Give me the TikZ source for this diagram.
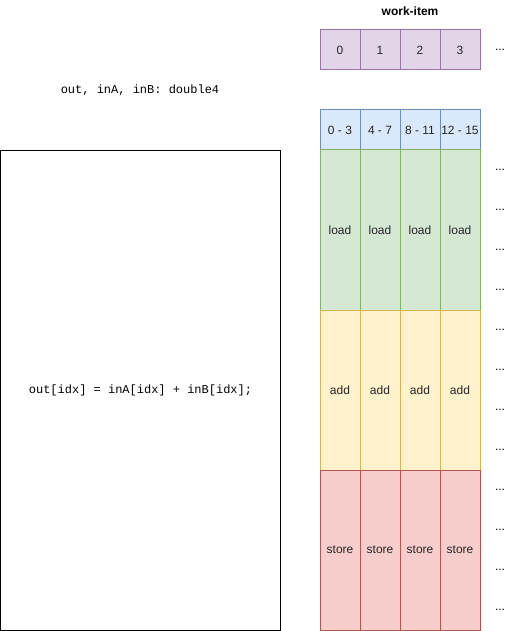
\documentclass[tikz,border=0pt]{standalone}
\usepackage{fontspec}
\setmainfont{Liberation Sans}
\newfontfamily\codefont{Liberation Mono}
\definecolor{pfill}{HTML}{E1D5E7}\definecolor{pdraw}{HTML}{9673A6}
\definecolor{bfill}{HTML}{DAE8FC}\definecolor{bdraw}{HTML}{6C8EBF}
\definecolor{gfill}{HTML}{D5E8D4}\definecolor{gdraw}{HTML}{82B366}
\definecolor{yfill}{HTML}{FFF2CC}\definecolor{ydraw}{HTML}{D6B656}
\definecolor{rfill}{HTML}{F8CECC}\definecolor{rdraw}{HTML}{B85450}
\begin{document}
\begin{tikzpicture}[x=1pt,y=-1pt,
  cell/.style={draw, line width=1pt, minimum width=40pt, inner sep=0pt, font=\fontsize{12}{14}\selectfont, text=black!85},
  wi/.style={cell, fill=pfill, draw=pdraw, minimum height=40pt},
  rng/.style={cell, fill=bfill, draw=bdraw, minimum height=40pt},
  ld/.style={cell, fill=gfill, draw=gdraw, minimum height=160pt},
  ad/.style={cell, fill=yfill, draw=ydraw, minimum height=160pt},
  st/.style={cell, fill=rfill, draw=rdraw, minimum height=160pt},
  dots/.style={font=\fontsize{12}{14}\selectfont, inner sep=0pt},
  code/.style={font=\codefont\fontsize{12}{14}\selectfont, inner sep=0pt}]
\useasboundingbox (0,0) rectangle (521,631);
\node[font=\bfseries\fontsize{12}{14}\selectfont, inner sep=0pt] (title) at (410,11) {work-item};
\foreach \i in {0,1,2,3} {
  \node[wi] (w\i) at (340+40*\i,50) {\i};
}
\node[dots] (wd) at (500,50) {...};
\node[rng] (r0) at (340,130) {0 - 3};
\node[rng] (r1) at (380,130) {4 - 7};
\node[rng] (r2) at (420,130) {8 - 11};
\node[rng] (r3) at (460,130) {12 - 15};
\foreach \i in {0,1,2,3} {
  \node[ld] (l\i) at (340+40*\i,230) {load};
  \node[ad] (a\i) at (340+40*\i,390) {add};
  \node[st] (s\i) at (340+40*\i,550) {store};
}
\foreach \k in {0,...,11} {
  \node[dots] (d\k) at (500,170+40*\k) {...};
}
\node[code] (decl) at (140,90) {out, inA, inB: double4};
\node[draw, line width=1pt, minimum width=280pt, minimum height=480pt, inner sep=0pt] (body) at (140.5,390.5) {};
\node[code] (stmt) at (body.center) {out[idx] = inA[idx] + inB[idx];};
\end{tikzpicture}
\end{document}
